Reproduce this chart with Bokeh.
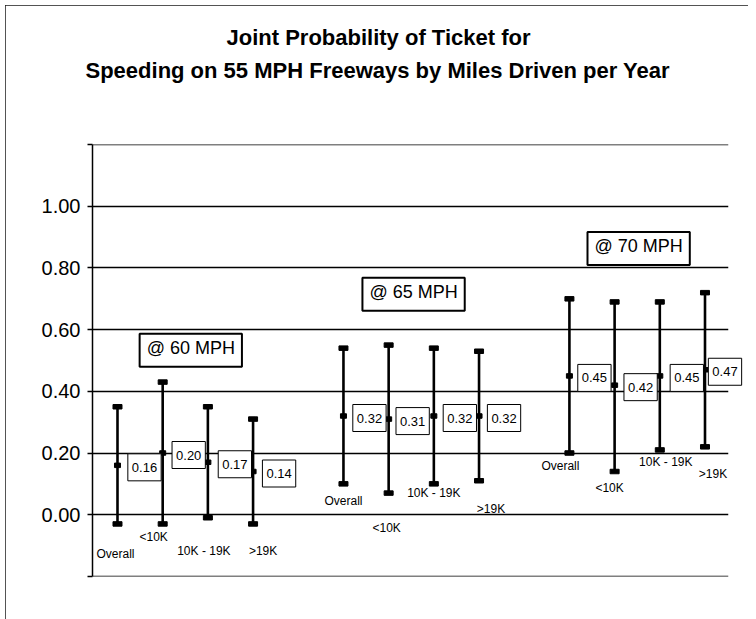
from bokeh.plotting import figure
from bokeh.models import ColumnDataSource, Range1d, FixedTicker, NumeralTickFormatter, Label, Title
from bokeh.core.properties import value
from bokeh.embed import file_html
from bokeh.resources import INLINE

# ---------------- data ----------------
speed_groups = ["@ 60 MPH", "@ 65 MPH", "@ 70 MPH"]
mileage = ["Overall", "<10K", "10K - 19K", ">19K"]

mean_60 = [0.16, 0.20, 0.17, 0.14]
low_60 = [-0.03, -0.03, -0.01, -0.03]
high_60 = [0.35, 0.43, 0.35, 0.31]

mean_65 = [0.32, 0.31, 0.32, 0.32]
low_65 = [0.10, 0.07, 0.10, 0.11]
high_65 = [0.54, 0.55, 0.54, 0.53]

mean_70 = [0.45, 0.42, 0.45, 0.47]
low_70 = [0.20, 0.14, 0.21, 0.22]
high_70 = [0.70, 0.69, 0.69, 0.72]

y_ticks = [-0.2, 0.0, 0.2, 0.4, 0.6, 0.8, 1.0, 1.2]

title_line1 = "Joint Probability of Ticket for"
title_line2 = "Speeding on 55 MPH Freeways by Miles Driven per Year"

# ---------------- layout (pixels / slots) ----------------
SLOTS_PER_GROUP = 5
cat_dx = [[-2, -9, -4, 10], [0, -2, 0, 12], [-9, -5, 6, 8]]
cat_dy = [[30, 13, 33, 27], [17, 35, 9, 28], [13, 16, 12, 27]]
val_dx = [[27, 26, 27, 26], [26, 24, 26, 25], [25, 26, 27, 20]]
group_box_pos = [(0.49, 0.587), (5.42, 0.768), (10.40, 0.917)]
title_offsets = (134, -7)   # px from the frame's left edge, lines 1 and 2

means = [mean_60, mean_65, mean_70]
lows = [low_60, low_65, low_70]
highs = [high_60, high_65, high_70]

xs, ms, los, his, cats, lbls, dxs, dys, vdx = [], [], [], [], [], [], [], [], []
for g in range(len(speed_groups)):
    for i, cat in enumerate(mileage):
        xs.append(g * SLOTS_PER_GROUP + i)
        ms.append(means[g][i])
        los.append(lows[g][i])
        his.append(highs[g][i])
        cats.append(cat)
        lbls.append(f"{means[g][i]:.2f}")
        dxs.append(cat_dx[g][i])
        dys.append(cat_dy[g][i])
        vdx.append(val_dx[g][i])

src = ColumnDataSource(dict(x=xs, mean=ms, low=los, high=his, cat=cats,
                            lbl=lbls, cdx=dxs, cdy=dys, vdx=vdx))

FONT = "Liberation Sans"

p = figure(width=743, height=616,
           x_range=Range1d(-0.553, 13.52), y_range=Range1d(-0.2005, 1.2005),
           output_backend="svg", toolbar_location=None,
           min_border_left=87, min_border_right=20,
           min_border_top=139, min_border_bottom=45)

p.margin = (5, 0, 0, 5)
p.styles = {"outline": "2px solid #1a1a1a", "outline-offset": "-2px"}
p.outline_line_color = None
p.background_fill_color = "white"
p.border_fill_color = "white"

# titles: spacer (nearest the frame), line 2, then line 1 (p.title, outermost)
spacer = Title(text="\u00a0", text_font_size="1px", standoff=56)
p.add_layout(spacer, "above")
t2 = Title(text=title_line2, align="left", offset=title_offsets[1], text_font=FONT,
           text_font_size="22px", text_font_style="bold", text_color="black",
           standoff=6)
p.add_layout(t2, "above")
p.title.text = title_line1
p.title.align = "left"
p.title.offset = title_offsets[0]
p.title.text_font = FONT
p.title.text_font_size = "22px"
p.title.text_font_style = "bold"
p.title.text_color = "black"
p.title.standoff = 6

# axes
p.xaxis.visible = False
p.xgrid.visible = False
p.yaxis.ticker = FixedTicker(ticks=y_ticks)
p.yaxis.formatter = NumeralTickFormatter(format="0.00")
p.yaxis.major_label_overrides = {-0.2: "", 1.2: ""}
p.yaxis.major_label_text_font = FONT
p.yaxis.major_label_text_font_size = "20px"
p.yaxis.major_label_text_color = "black"
p.yaxis.major_label_standoff = 7
p.yaxis.major_tick_out = 5
p.yaxis.major_tick_in = 0
p.yaxis.minor_tick_line_color = None
p.yaxis.axis_line_color = "black"
p.yaxis.axis_line_width = 1.5
p.yaxis.major_tick_line_color = "black"
p.yaxis.major_tick_line_width = 1.5
p.ygrid.ticker = FixedTicker(ticks=y_ticks)
p.ygrid.grid_line_color = "black"
p.ygrid.grid_line_width = 1.3
p.ygrid.grid_line_alpha = 1.0

# whiskers
p.segment(x0="x", y0="low", x1="x", y1="high", source=src,
          line_color="black", line_width=2.6)
p.rect(x="x", y="low", width=9, height=4.5, width_units="screen",
       height_units="screen", source=src, color="black")
p.rect(x="x", y="high", width=9, height=4.5, width_units="screen",
       height_units="screen", source=src, color="black")
p.rect(x="x", y="mean", width=6, height=4.5, width_units="screen",
       height_units="screen", source=src, color="black")

# value boxes
p.text(x="x", y="mean", text="lbl", x_offset="vdx", y_offset=2, source=src,
       text_align="center", text_baseline="middle",
       text_font=value(FONT), text_font_size="13px", text_color="black",
       border_line_color="black", border_line_width=1,
       background_fill_color="white",
       padding=dict(left=4, right=4, top=9, bottom=9), level="overlay")

# category labels
p.text(x="x", y="low", text="cat", x_offset="cdx", y_offset="cdy", source=src,
       text_align="center", text_baseline="middle",
       text_font=value(FONT), text_font_size="12px", text_color="black")

# group labels
for name, (gx, gy) in zip(speed_groups, group_box_pos):
    p.add_layout(Label(x=gx, y=gy, text=name,
                       text_align="left", text_baseline="top",
                       text_font=FONT, text_font_size="18px", text_color="black",
                       border_line_color="black", border_line_width=2,
                       background_fill_color="white",
                       padding=dict(left=7, right=7, top=4, bottom=9)))

open("out.html", "w").write(file_html(p, INLINE))
